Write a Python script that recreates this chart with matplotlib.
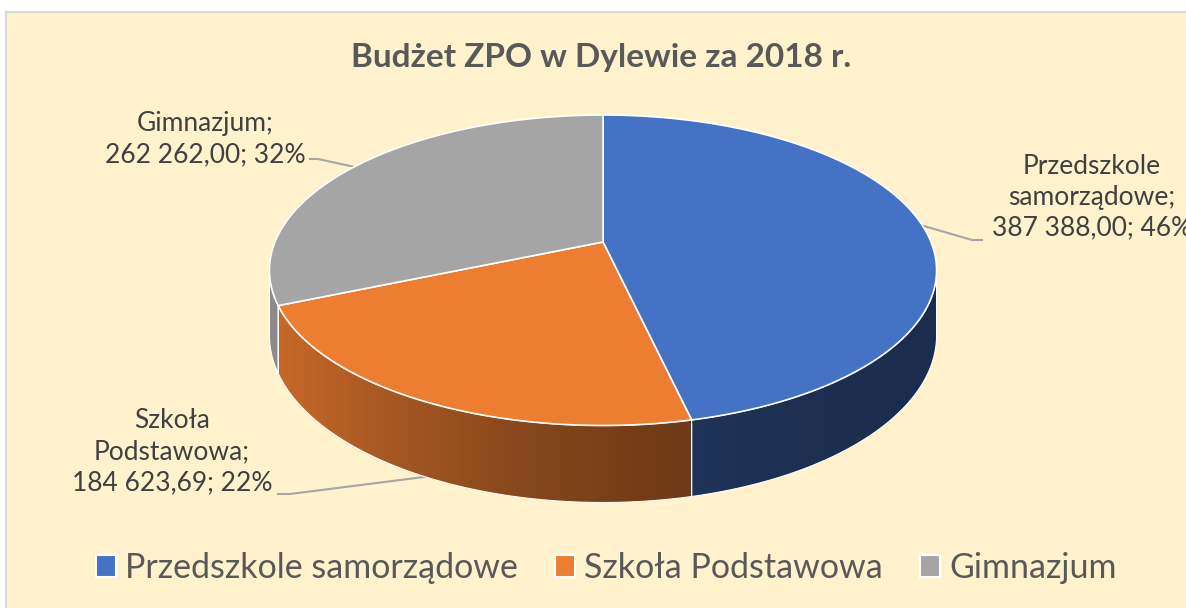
import matplotlib
matplotlib.use('Agg')
import matplotlib.pyplot as plt
import numpy as np
from matplotlib.patches import Polygon, Rectangle, Patch
from matplotlib.colors import to_rgb

plt.rcParams['font.family'] = ['Lato', 'DejaVu Sans']

# data
categories = ['Przedszkole samorządowe', 'Szkoła Podstawowa', 'Gimnazjum']
values = [387388.00, 184623.69, 262262.00]
pct_labels = ['46%', '22%', '32%']
name_lines = [['Przedszkole', 'samorządowe;'], ['Szkoła', 'Podstawowa;'], ['Gimnazjum;']]
colors = ['#4472C4', '#ED7D31', '#A5A5A5']

title = 'Budżet ZPO w Dylewie za 2018 r.'

# pie geometry (pixels), simple perspective
CX, CY = 603, 242
R, RS = 328, 150.1
K = 0.182
DEPTH = 63
VIS0 = np.degrees(np.arccos(-K))   # visible part of the side wall (deg, clockwise from top)
VIS1 = 360 - VIS0


def proj(theta, down=0.0):
    t = np.radians(theta)
    u, v = np.sin(t), np.cos(t)
    den = 1 + K * v
    return CX + R * u / den, CY - RS * v / den + down / den


def fmt_value(v):
    s = f'{v:,.2f}'
    return s.replace(',', ' ').replace('.', ',')


fig = plt.figure(figsize=(11.86, 6.08), dpi=100)
fig.patch.set_facecolor('white')
ax = fig.add_axes([0, 0, 1, 1])
ax.set_xlim(0, 1186)
ax.set_ylim(608, 0)
ax.axis('off')

ax.add_patch(Rectangle((5.5, 12), 1200, 620, facecolor='#FFF2CC', edgecolor='#D9D9D9', lw=1.5, zorder=0))

fracs = np.array(values) / sum(values)
bounds = np.concatenate([[0], np.cumsum(fracs) * 360])

x_left = CX - R / np.sqrt(1 - K ** 2)
x_right = CX + R / np.sqrt(1 - K ** 2)

# side walls
for i, c in enumerate(colors):
    a0, a1 = max(bounds[i], VIS0), min(bounds[i + 1], VIS1)
    if a1 <= a0:
        continue
    th = np.linspace(a0, a1, 200)
    xt, yt = proj(th)
    xb, yb = proj(th, DEPTH)
    pts = np.column_stack([np.concatenate([xt, xb[::-1]]), np.concatenate([yt, yb[::-1]])])
    ax.add_patch(Polygon(pts, closed=True, facecolor='none', edgecolor='white', lw=0.8, zorder=3))
    gx = np.linspace(x_left, x_right, 400)
    tt = (gx - x_left) / (x_right - x_left)
    fac = 0.4 + 0.45 * (1 - tt) ** 2
    grad = np.clip(np.array(to_rgb(c))[None, :] * fac[:, None], 0, 1)
    img = np.repeat(grad[None, :, :], 2, axis=0)
    im = ax.imshow(img, extent=(x_left, x_right, pts[:, 1].max() + 2, pts[:, 1].min() - 2),
                   aspect='auto', zorder=2, interpolation='bilinear')
    im.set_clip_path(Polygon(pts, closed=True, transform=ax.transData))

ax.set_xlim(0, 1186)
ax.set_ylim(608, 0)

# top faces
for i, c in enumerate(colors):
    th = np.linspace(bounds[i], bounds[i + 1], 300)
    xt, yt = proj(th)
    pts = np.column_stack([np.concatenate([[CX], xt]), np.concatenate([[CY], yt])])
    ax.add_patch(Polygon(pts, closed=True, facecolor=c, edgecolor='white', lw=1.2, zorder=4))

# data labels with leader lines
label_pos = [(1092, 197), (172, 452), (205, 139)]
leader_end = [(982, 240), (278, 494), (310, 159)]
leader_knee = [(972, 240), (290, 494), (318, 159)]
for i in range(3):
    mid = (bounds[i] + bounds[i + 1]) / 2
    down = DEPTH if VIS0 < mid < VIS1 else 0
    px, py = proj(mid, down)
    ex, ey = leader_end[i]
    kx, ky = leader_knee[i]
    ax.plot([px, kx, ex], [py, ky, ey], color='#A6A6A6', lw=1.5, zorder=1)
    txt = '\n'.join(name_lines[i] + [f'{fmt_value(values[i])}; {pct_labels[i]}'])
    ax.text(label_pos[i][0], label_pos[i][1], txt, ha='center', va='center', fontsize=19,
            color='#404040', linespacing=1.3, zorder=5)

ax.text(601, 57, title, ha='center', va='center', fontsize=24, fontweight='bold', color='#595959')

handles = [Patch(facecolor=c, edgecolor='white', lw=1.5) for c in colors]
fig.legend(handles, categories, loc='center', bbox_to_anchor=(0.511, 0.066), ncol=3, frameon=False,
           fontsize=24.5, labelcolor='#595959', handlelength=0.6, handleheight=0.6, handletextpad=0.25,
           columnspacing=1.1)

fig.savefig('out.png', dpi=100, facecolor='white')
